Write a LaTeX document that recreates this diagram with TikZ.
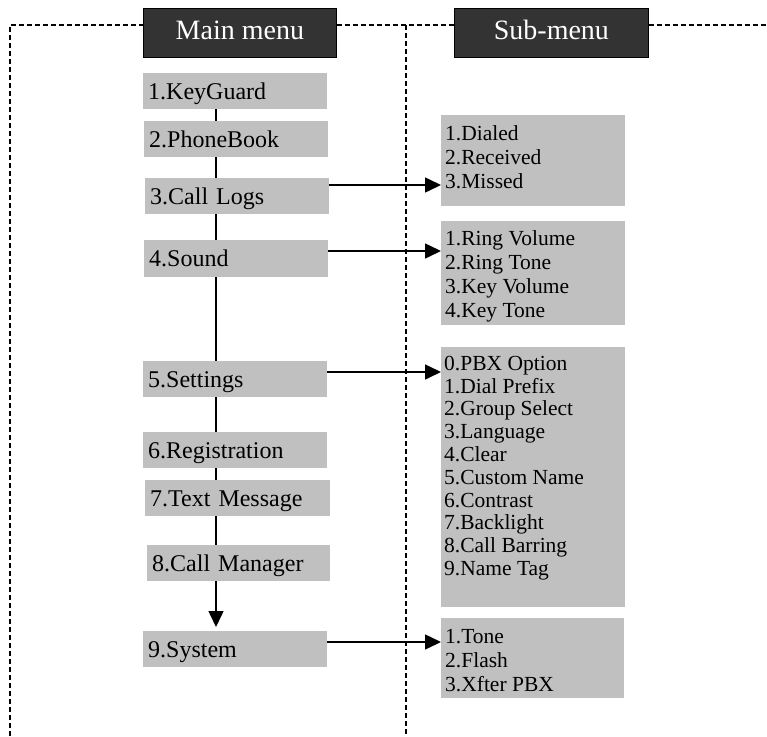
\documentclass[tikz,border=0pt]{standalone}
\usepackage{fontspec}
\setmainfont{Liberation Serif}
\usetikzlibrary{arrows.meta,backgrounds}
\definecolor{itemgray}{HTML}{C0C0C0}
\definecolor{headdark}{HTML}{333333}
\tikzset{
  headbox/.style={draw=black, line width=0.8pt, fill=headdark, text=white,
    font=\fontsize{28pt}{32pt}\selectfont, anchor=north west, inner sep=0pt,
    text height=19pt, text depth=6pt},
  itembox/.style={fill=itemgray, anchor=north west, inner xsep=5pt, inner ysep=0pt,
    minimum height=36pt, text height=16pt, text depth=0pt, align=left,
    font=\fontsize{24pt}{28pt}\selectfont},
  subbox/.style={fill=itemgray, anchor=north west, inner sep=0pt},
  subtext/.style={anchor=north west, inner sep=0pt, align=left,
    font=\fontsize{21.5pt}{24pt}\selectfont},
  dashline/.style={line width=1.5pt, dash pattern=on 5pt off 3pt},
  conn/.style={line width=1.5pt},
  arr/.style={line width=1.5pt, -{Triangle[length=16pt,width=15pt]}}
}
\begin{document}
\begin{tikzpicture}[x=1pt,y=-1pt]
\useasboundingbox (0,0) rectangle (767,736);
% headers
\node[headbox, minimum width=193pt, minimum height=49pt] (hm) at (143,8) {Main menu};
\node[headbox, minimum width=194pt, minimum height=49pt] (hs) at (454,8) {Sub-menu};
% dashed frame
\coordinate (tl) at (10,25);
\coordinate (bl) at (10,736);
\coordinate (tm) at (406,25);
\coordinate (bm) at (406,736);
\coordinate (tr) at (767,25);
\draw[dashline] (bl) -- (tl) -- (tl -| hm.west);
\draw[dashline] (tl -| hm.east) -- (tl -| hs.west);
\draw[dashline] (tl -| hs.east) -- (tr);
\draw[dashline] (tm) -- (bm);
% main items
\node[itembox, text width=174pt] (k1) at (143,73) {1.KeyGuard};
\node[itembox, text width=174pt] (k2) at (144,121) {2.PhoneBook};
\node[itembox, text width=174pt] (k3) at (145,178) {3.Call Logs};
\node[itembox, text width=174pt, minimum height=37pt] (k4) at (144,240) {4.Sound};
\node[itembox, text width=174pt] (k5) at (143,361) {5.Settings};
\node[itembox, text width=174pt] (k6) at (143,432) {6.Registration};
\node[itembox, text width=175pt] (k7) at (145,480) {7.Text Message};
\node[itembox, text width=173pt] (k8) at (147,545) {8.Call Manager};
\node[itembox, text width=174pt] (k9) at (143,631) {9.System};
% sub boxes
\node[subbox, minimum width=184pt, minimum height=91pt] (s1) at (441,115) {};
\node[subbox, minimum width=184pt, minimum height=104pt] (s2) at (441,221) {};
\node[subbox, minimum width=184pt, minimum height=260pt] (s3) at (441,347) {};
\node[subbox, minimum width=183pt, minimum height=80pt] (s4) at (441,618) {};
\node[subtext] (t1) at ([xshift=4pt,yshift=-10pt]s1.north west)
  {\rule{0pt}{15pt}1.Dialed\\2.Received\\3.Missed};
\node[subtext] (t2) at ([xshift=4pt,yshift=-9pt]s2.north west)
  {\rule{0pt}{15pt}1.Ring Volume\\2.Ring Tone\\3.Key Volume\\4.Key Tone};
\node[subtext, font=\fontsize{21.5pt}{22.8pt}\selectfont] (t3) at ([xshift=3pt,yshift=-8pt]s3.north west)
  {\rule{0pt}{15pt}0.PBX Option\\1.Dial Prefix\\2.Group Select\\3.Language\\4.Clear\\5.Custom Name\\6.Contrast\\7.Backlight\\8.Call Barring\\9.Name Tag};
\node[subtext] (t4) at ([xshift=4pt,yshift=-10pt]s4.north west)
  {\rule{0pt}{15pt}1.Tone\\2.Flash\\3.Xfter PBX};
% vertical spine
\coordinate (vx) at (216,0);
\begin{scope}[on background layer]
\draw[conn] (k1.south -| vx) -- (k8.south -| vx);
\draw[arr, shorten >=4pt] (k8.south -| vx) -- (k9.north -| vx);
\end{scope}
% horizontal arrows
\coordinate (a3) at ([yshift=-7pt]k3.north east);
\coordinate (a4) at ([yshift=-11pt]k4.north east);
\coordinate (a5) at ([yshift=-11pt]k5.north east);
\coordinate (a9) at ([yshift=-11pt]k9.north east);
\draw[arr] (a3) -- (a3 -| s1.west);
\draw[arr] (a4) -- (a4 -| s2.west);
\draw[arr] (a5) -- (a5 -| s3.west);
\draw[arr] (a9) -- (a9 -| s4.west);
\end{tikzpicture}
\end{document}
